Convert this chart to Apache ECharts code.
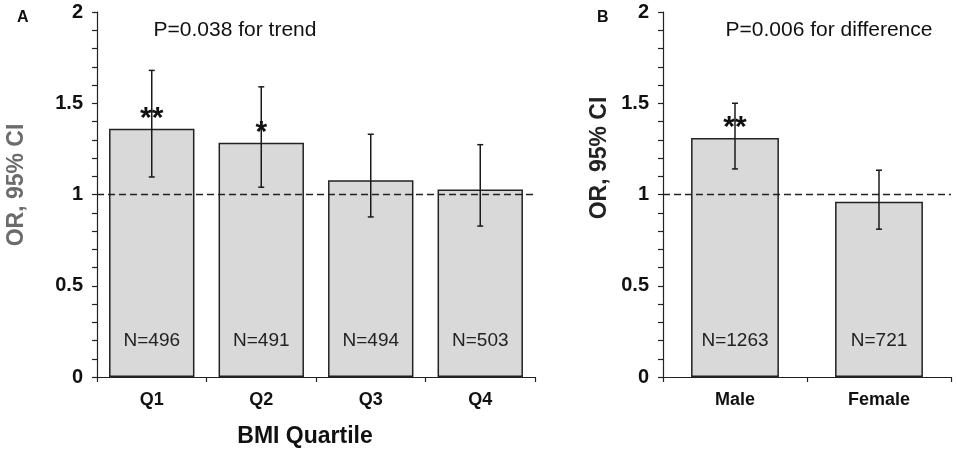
<!DOCTYPE html>
<html><head><meta charset="utf-8">
<script src="https://cdn.jsdelivr.net/npm/echarts@6/dist/echarts.min.js"></script>
<style>html,body{margin:0;padding:0;background:#fff}#c{width:957px;height:451px}</style>
</head><body><div id="c"></div>
<script>
const catA = ['Q1', 'Q2', 'Q3', 'Q4'];
const orA = [1.36, 1.284, 1.078, 1.028];
const lowA = [1.096, 1.04, 0.877, 0.827];
const highA = [1.68, 1.59, 1.33, 1.273];
const nA = ['N=496', 'N=491', 'N=494', 'N=503'];
const starA = ['**', '*', '', ''];

const catB = ['Male', 'Female'];
const orB = [1.31, 0.96];
const lowB = [1.14, 0.81];
const highB = [1.50, 1.133];
const nB = ['N=1263', 'N=721'];
const starB = ['**', ''];

const yTicks = [0, 0.5, 1, 1.5, 2];
const refLine = 1;

const FONT = "'Liberation Sans', Arial, sans-serif";
const chart = echarts.init(document.getElementById('c'), null, {renderer: 'canvas'});

function errRender(stars) {
  return function (params, api) {
    const i = api.value(0);
    const lo = api.coord([i, api.value(1)]);
    const hi = api.coord([i, api.value(2)]);
    const top = api.coord([i, api.value(3)]);
    const x = lo[0];
    const cw = 3;
    const st = {stroke: '#1a1a1a', lineWidth: 1.5};
    const children = [
      {type: 'line', shape: {x1: x, y1: lo[1], x2: x, y2: hi[1]}, style: st},
      {type: 'line', shape: {x1: x - cw, y1: lo[1], x2: x + cw, y2: lo[1]}, style: st},
      {type: 'line', shape: {x1: x - cw, y1: hi[1], x2: x + cw, y2: hi[1]}, style: st}
    ];
    const s = stars[params.dataIndex];
    if (s) {
      children.push({type: 'text', x: x, y: top[1] - 10,
        style: {text: s, fill: '#111', font: "bold 30px " + FONT, align: 'center', verticalAlign: 'middle'}});
    }
    return {type: 'group', children: children};
  };
}

function yAxisCfg(gi) {
  return {
    type: 'value', gridIndex: gi, min: yTicks[0], max: yTicks[yTicks.length - 1], interval: 0.5,
    axisLine: {show: true, lineStyle: {color: '#222', width: 1.2}},
    axisTick: {show: true, length: 5, lineStyle: {color: '#222', width: 1.2}},
    minorTick: {show: true, splitNumber: 5, length: 5, lineStyle: {color: '#222', width: 1.2}},
    splitLine: {show: false},
    axisLabel: {color: '#111', fontFamily: FONT, fontWeight: 'bold', fontSize: 20, margin: 14}
  };
}
function xAxisCfg(gi, cats) {
  return {
    type: 'category', gridIndex: gi, data: cats,
    axisLine: {show: true, lineStyle: {color: '#222', width: 1.2}},
    axisTick: {show: true, length: 5, lineStyle: {color: '#222', width: 1.2}},
    axisLabel: {color: '#111', fontFamily: FONT, fontWeight: 'bold', fontSize: 18, margin: 14}
  };
}
function barSeries(gi, vals, labels, gap) {
  return {
    type: 'bar', xAxisIndex: gi, yAxisIndex: gi, data: vals, barCategoryGap: gap,
    itemStyle: {color: '#d9d9d9', borderColor: '#222', borderWidth: 1.5},
    label: {show: true, position: 'insideBottom', distance: 27,
      formatter: p => labels[p.dataIndex], color: '#222', fontFamily: FONT, fontSize: 19},
    markLine: {silent: true, symbol: 'none', label: {show: false},
      lineStyle: {type: [7, 4], color: '#222', width: 1.3},
      data: [{yAxis: refLine}]},
    emphasis: {disabled: true}
  };
}
function errSeries(gi, lows, highs, vals, stars) {
  return {
    type: 'custom', xAxisIndex: gi, yAxisIndex: gi, z: 5,
    renderItem: errRender(stars),
    data: vals.map((v, i) => [i, lows[i], highs[i], v]),
    encode: {x: 0, y: [1, 2]}
  };
}

chart.setOption({
  animation: false,
  grid: [
    {left: 97, right: 422, top: 12, bottom: 74},
    {left: 663, right: 6, top: 12, bottom: 74}
  ],
  xAxis: [xAxisCfg(0, catA), xAxisCfg(1, catB)],
  yAxis: [yAxisCfg(0), yAxisCfg(1)],
  series: [
    barSeries(0, orA, nA, '22%'),
    errSeries(0, lowA, highA, orA, starA),
    barSeries(1, orB, nB, '39%'),
    errSeries(1, lowB, highB, orB, starB)
  ],
  graphic: [
    {type: 'text', left: 17, top: 10, style: {text: 'A', font: "bold 16px " + FONT, fill: '#111'}},
    {type: 'text', left: 597, top: 10, style: {text: 'B', font: "bold 16px " + FONT, fill: '#111'}},
    {type: 'text', x: 235, y: 30, style: {text: 'P=0.038 for trend', font: "21px " + FONT, fill: '#111', align: 'center', verticalAlign: 'middle'}},
    {type: 'text', x: 829, y: 30, style: {text: 'P=0.006 for difference', font: "21px " + FONT, fill: '#111', align: 'center', verticalAlign: 'middle'}},
    {type: 'text', x: 305, y: 437, style: {text: 'BMI Quartile', font: "bold 23px " + FONT, fill: '#111', align: 'center', verticalAlign: 'middle'}},
    {type: 'text', x: 17, y: 185, rotation: Math.PI / 2, style: {text: 'OR, 95% CI', font: "bold 23px " + FONT, fill: '#6b6b6b', align: 'center', verticalAlign: 'middle'}},
    {type: 'text', x: 600, y: 158, rotation: Math.PI / 2, style: {text: 'OR, 95% CI', font: "bold 23px " + FONT, fill: '#222', align: 'center', verticalAlign: 'middle'}}
  ]
});
</script></body></html>
